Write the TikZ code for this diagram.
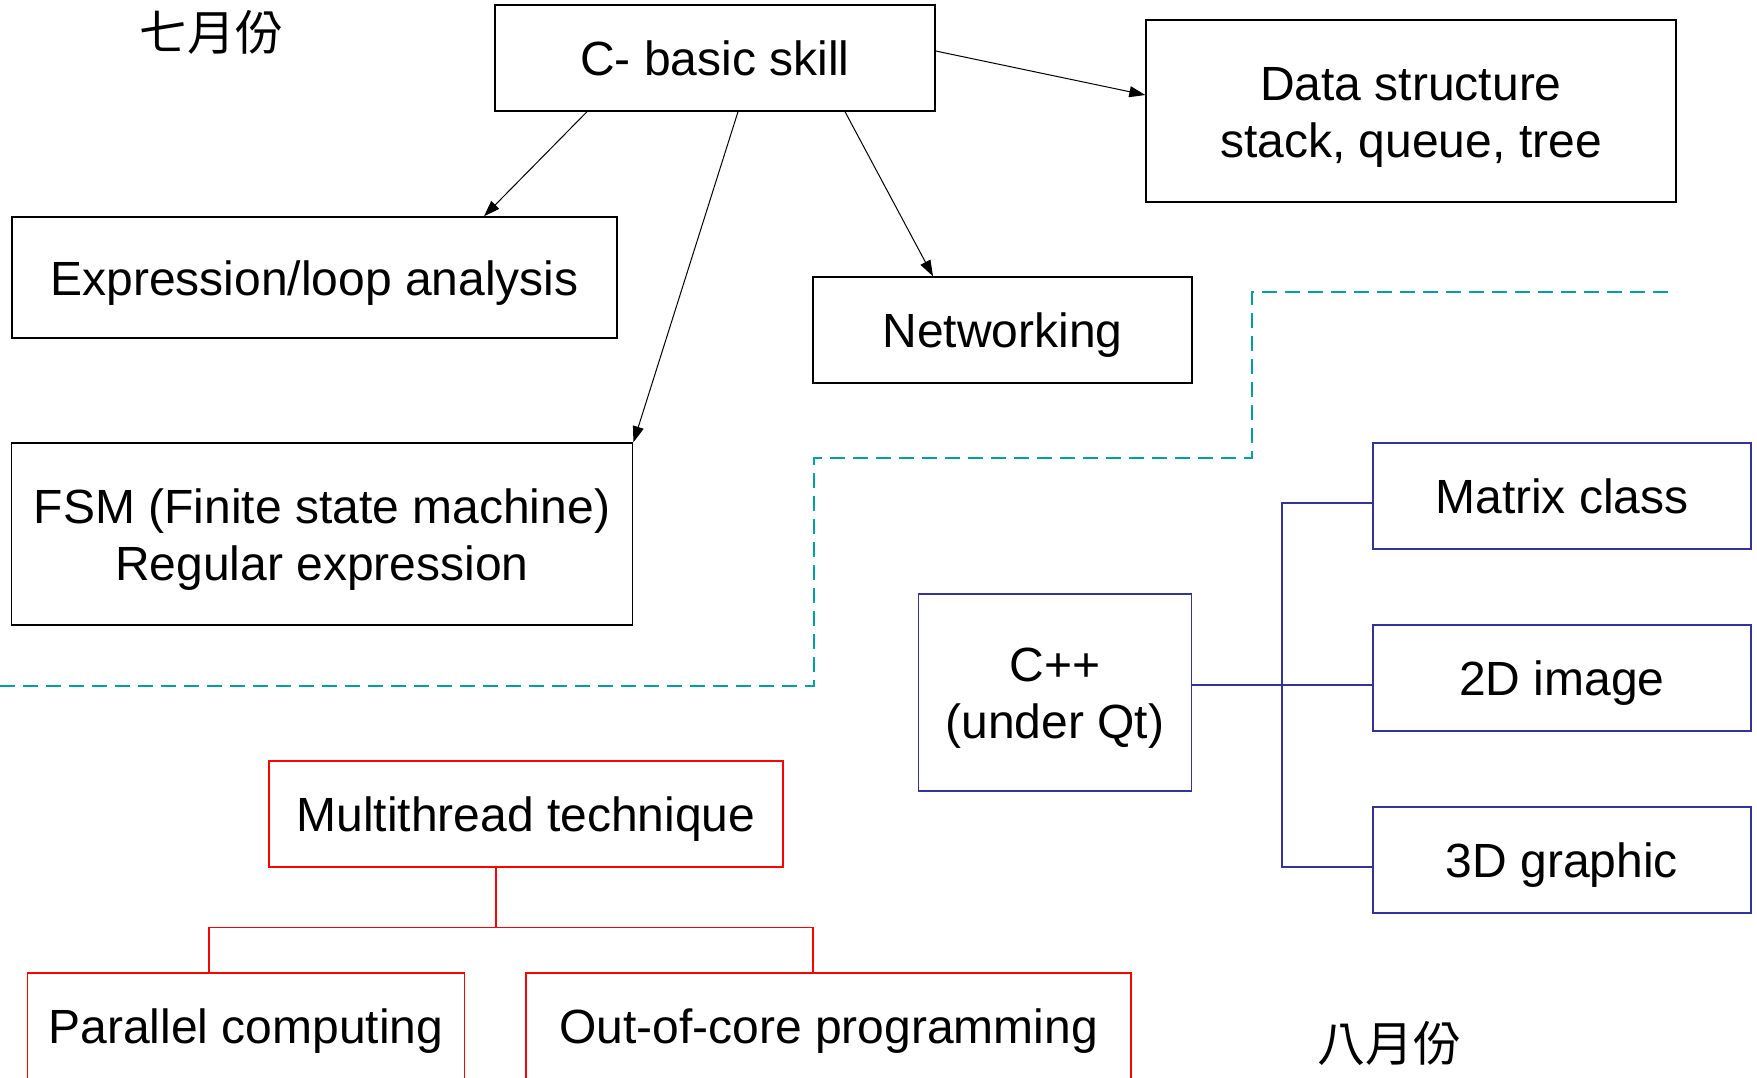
\documentclass[tikz,border=0pt]{standalone}
\usepackage{fontspec}
\setmainfont{Liberation Sans}
\newfontfamily\cjk{Noto Sans CJK TC}
\usetikzlibrary{arrows.meta}
\definecolor{divider}{RGB}{0,160,160}
\definecolor{qtblue}{RGB}{51,51,153}
\newcommand{\pstrut}{\rule[-10pt]{0pt}{55pt}}

\begin{document}
\begin{tikzpicture}[x=1pt, y=-1pt,
    every node/.style={draw, line width=1.4pt, align=center, inner sep=0pt,
        font=\fontsize{48}{57}\selectfont},
    boxsize/.style 2 args={minimum width=#1pt, minimum height=#2pt},
    topic/.style={draw=black},
    cppbox/.style={draw=qtblue, line width=1.2pt},
    threadbox/.style={draw=red, line width=1.3pt},
    link/.style={-{Triangle[length=16pt,width=11pt]}, line width=1pt},
    month/.style={draw=none, font=\fontsize{48}{48}\selectfont\cjk}]

    \useasboundingbox (0,0) rectangle (1757,1077);

    \node[month] (july) at (211,32) {七月份};
    \node[month] (aug) at (1389,1043) {八月份};

    \node[topic, boxsize={440}{106}] (cbasic) at (715,58) {\pstrut C- basic skill};
    \node[topic, boxsize={530}{182}] (data) at (1411,111) {\pstrut Data structure\\\pstrut stack, queue, tree};
    \node[topic, boxsize={605}{121}] (expr) at (314.5,277.5) {\pstrut Expression/loop analysis};
    \node[topic, boxsize={379}{106}] (net) at (1002.5,330) {\pstrut Networking};
    \node[topic, boxsize={621.5}{182}] (fsm) at (322,534) {\pstrut FSM (Finite state machine)\\\pstrut Regular expression};

    \draw[link] ([xshift=-128pt]cbasic.south) -- ([xshift=169.5pt]expr.north);
    \draw[link] ([xshift=23pt]cbasic.south) -- (fsm.north east);
    \draw[link] ([xshift=130pt]cbasic.south) -- ([xshift=-69.5pt]net.north);
    \draw[link] ([yshift=7pt]cbasic.east) -- ([yshift=16pt]data.west);

    \draw[divider, line width=1.3pt, dash pattern=on 15pt off 8pt]
        (0,686) -- (814,686) -- (814,458) -- (1252,458) -- (1252,292) -- (1676,292);

    \node[cppbox, boxsize={272.5}{197}] (cpp) at (1055,692.5) {\pstrut C++\\\pstrut (under Qt)};
    \node[cppbox, boxsize={378}{106}] (matrix) at (1562,496) {\pstrut Matrix class};
    \node[cppbox, boxsize={378}{106}] (img2d) at (1562,678) {\pstrut 2D image};
    \node[cppbox, boxsize={378}{106}] (gfx3d) at (1562,860) {\pstrut 3D graphic};

    \coordinate (bus) at (1282,685);
    \draw[qtblue, line width=1.2pt] ([yshift=-7pt]matrix.west) -| (bus) |- ([yshift=-7pt]gfx3d.west);
    \draw[qtblue, line width=1.2pt] (cpp.east |- bus) -- ([yshift=-7pt]img2d.west);

    \node[threadbox, boxsize={514}{106}] (multi) at (526,814) {\pstrut Multithread technique};
    \node[threadbox, boxsize={437.5}{106}] (para) at (246,1026) {\pstrut Parallel computing};
    \node[threadbox, boxsize={605}{106}] (outcore) at (828.5,1026) {\pstrut Out-of-core programming};

    \draw[red, line width=1.2pt] ([xshift=-30pt]multi.south) -- ++(0,60) coordinate (rj);
    \draw[red, line width=1.2pt] ([xshift=-37pt]para.north) |- (rj) -| ([xshift=-15.5pt]outcore.north);
\end{tikzpicture}
\end{document}
